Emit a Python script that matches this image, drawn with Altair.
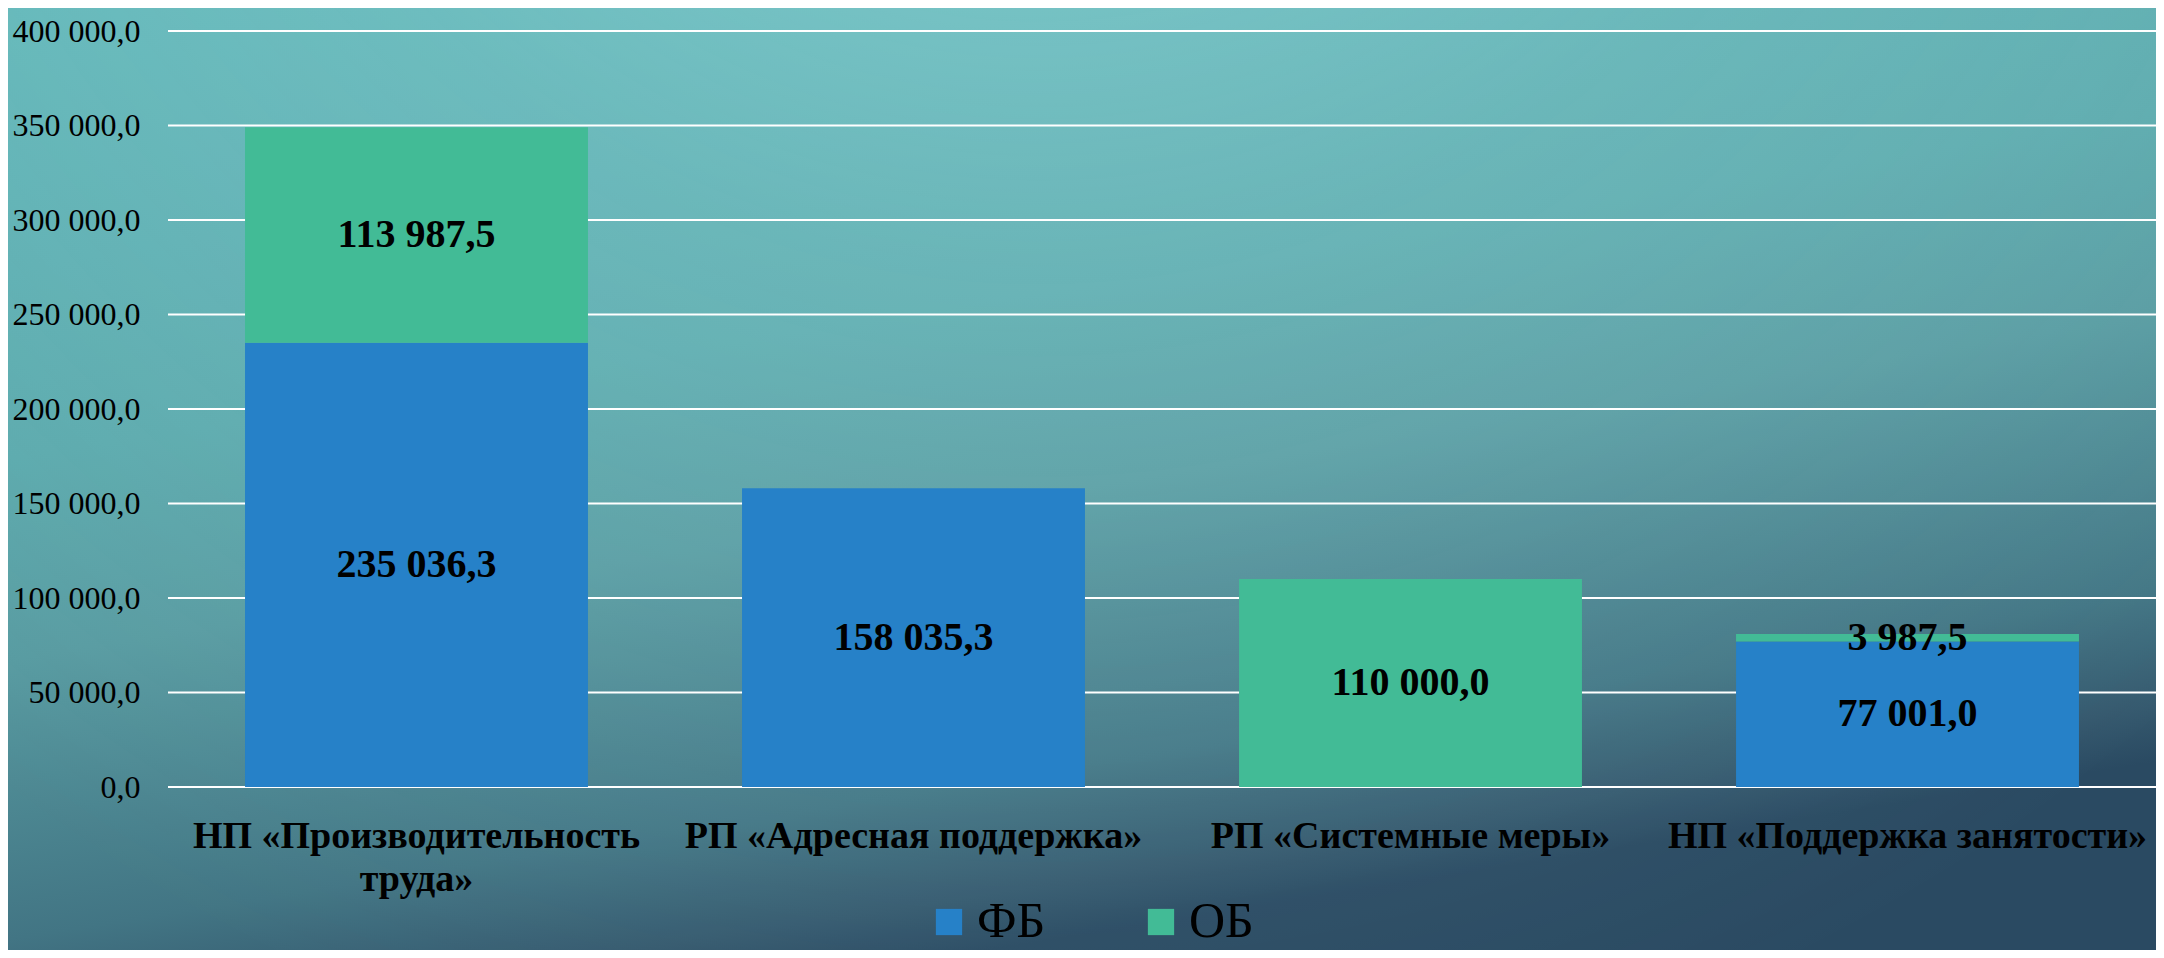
import altair as alt
import pandas as pd

categories = [
    "НП «Производительность труда»",
    "РП «Адресная поддержка»",
    "РП «Системные меры»",
    "НП «Поддержка занятости»",
]
fb_values = [235036.3, 158035.3, 0.0, 77001.0]
ob_values = [113987.5, 0.0, 110000.0, 3987.5]
series_names = ["ФБ", "ОБ"]
series_colors = ["#2681c8", "#42bb96"]
y_ticks = [0, 50000, 100000, 150000, 200000, 250000, 300000, 350000, 400000]


def fmt(v):
    s = f"{v:,.1f}"
    return s.replace(",", " ").replace(".", ",")


rows = []
for i, c in enumerate(categories):
    for k, (name, vals) in enumerate(zip(series_names, [fb_values, ob_values])):
        v = vals[i]
        if v > 0:
            rows.append({"cat": c, "series": name, "order": k, "value": v, "label": fmt(v)})
df = pd.DataFrame(rows)
ticks_df = pd.DataFrame({"tick": y_ticks})

W, H = 1988, 756
FONT = "Liberation Serif"

yscale = alt.Scale(domain=[0, 400000])
xscale = alt.Scale(paddingInner=0.31, paddingOuter=0.155)

one = pd.DataFrame({"a": [0]})
bg = alt.Chart(one).mark_rect(
    color=alt.LinearGradient(
        gradient="linear",
        x1=0, y1=0, x2=0.35, y2=1,
        stops=[
            alt.GradientStop(color="#5fb4b6", offset=0),
            alt.GradientStop(color="#5cadb0", offset=0.25),
            alt.GradientStop(color="#5aa8ab", offset=0.42),
            alt.GradientStop(color="#579aa0", offset=0.6),
            alt.GradientStop(color="#427584", offset=0.85),
            alt.GradientStop(color="#35596e", offset=0.95),
            alt.GradientStop(color="#2a4a62", offset=1),
        ],
    )
).encode(
    x=alt.value(-170), x2=alt.value(W + 10), y=alt.value(-40), y2=alt.value(H + 200)
)

glow = alt.Chart(one).mark_rect(
    color=alt.RadialGradient(
        gradient="radial",
        x1=0.48, y1=0.0, r1=0.0, x2=0.48, y2=0.0, r2=0.8,
        stops=[
            alt.GradientStop(color="rgba(200,255,255,0.42)", offset=0),
            alt.GradientStop(color="rgba(200,255,255,0.14)", offset=0.5),
            alt.GradientStop(color="rgba(200,255,255,0)", offset=1),
        ],
    )
).encode(
    x=alt.value(-170), x2=alt.value(W + 10), y=alt.value(-40), y2=alt.value(H + 200)
)

grid = alt.Chart(ticks_df).mark_rule(color="white", strokeWidth=2).encode(
    y=alt.Y("tick:Q", scale=yscale,
            axis=alt.Axis(values=y_ticks, grid=False, ticks=False, domain=False, title=None,
                          labelFont=FONT, labelFontSize=32, labelColor="black",
                          labelPadding=28, minExtent=155, maxExtent=155, zindex=1,
                          labelExpr="datum.value == 0 ? '0,0' : (datum.value/1000) + ' 000,0'"))
)

base = alt.Chart(df).transform_stack(
    stack="value", as_=["y0", "y1"], groupby=["cat"], sort=[alt.SortField("order")]
).transform_calculate(mid="(datum.y0 + datum.y1) / 2")

xenc = alt.X("cat:N", sort=categories, scale=xscale, title=None,
             axis=alt.Axis(labelAngle=0, ticks=False, domain=False, labelFont=FONT,
                           labelFontSize=38, labelFontWeight="bold", labelColor="black",
                           labelBaseline="top", labelPadding=30, labelLineHeight=43,
                           labelLimit=0, labelOverlap=False, zindex=1,
                           labelExpr="datum.value == 'НП «Производительность труда»' ? ['НП «Производительность', 'труда»'] : datum.value"))

bars = base.mark_bar().encode(
    x=xenc,
    y=alt.Y("y0:Q", scale=yscale),
    y2="y1:Q",
    color=alt.Color("series:N", sort=series_names,
                    scale=alt.Scale(domain=series_names, range=series_colors),
                    legend=alt.Legend(title=None, orient="none", direction="horizontal",
                                      legendX=756, legendY=866, symbolType="square",
                                      symbolSize=690, symbolStrokeWidth=0,
                                      labelFont=FONT, labelFontSize=50, labelColor="black",
                                      labelOffset=3, columnPadding=90, zindex=1)),
)

texts = base.mark_text(font=FONT, fontSize=40, fontWeight="bold", color="black").encode(
    x=alt.X("cat:N", sort=categories, scale=xscale),
    y=alt.Y("mid:Q", scale=yscale),
    text="label:N",
)

chart = alt.layer(bg, glow, grid, bars, texts).properties(
    width=W, height=H,
    autosize=alt.AutoSizeParams(type="none"),
    padding={"left": 160, "top": 23, "right": 0, "bottom": 163},
).configure_view(stroke=None)

chart.save("out.html", embed_options={"renderer": "svg", "actions": False})
